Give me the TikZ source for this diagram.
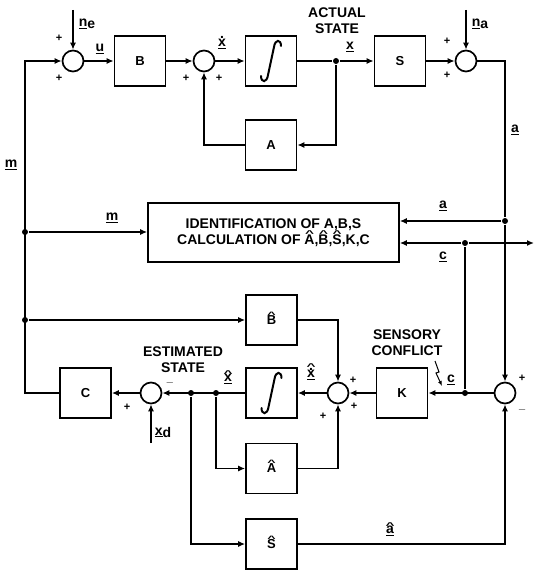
\documentclass[tikz,border=0pt]{standalone}
\usepackage{fontspec}
\setmainfont{Liberation Sans}
\usetikzlibrary{arrows.meta}
% hat and dot above a letter
\newcommand{\hatl}[2][0.55em]{\ooalign{#2\cr\hidewidth\raisebox{#1}{\scalebox{1.1}[0.6]{\textasciicircum}}\hidewidth\cr}}
\newcommand{\dotl}[2][0.58em]{\ooalign{#2\cr\hidewidth\raisebox{#1}{.}\hidewidth\cr}}
% integral sign drawn inside a block
\newcommand{\intsign}[1]{%
    \draw[line width=2pt,line cap=round] ([shift={(10,-15)}]#1.center)
        .. controls ([shift={(10,-22)}]#1.center) and ([shift={(4,-22)}]#1.center) .. ([shift={(3,-14)}]#1.center)
        -- ([shift={(-3,14)}]#1.center)
        .. controls ([shift={(-4,22)}]#1.center) and ([shift={(-10,22)}]#1.center) .. ([shift={(-10,15)}]#1.center);}
\begin{document}
\begin{tikzpicture}[x=1pt,y=-1pt,line width=1.7pt,>={Latex[length=7pt,width=6pt]},
    every node/.style={font=\bfseries\fontsize{14}{16}\selectfont},
    blk/.style={draw,minimum width=51pt,minimum height=50pt,inner sep=0pt,font=\bfseries\fontsize{13}{15}\selectfont},
    sum/.style={circle,draw,minimum size=21pt,inner sep=0pt},
    dot/.style={circle,fill,minimum size=6pt,inner sep=0pt},
    lbl/.style={inner sep=1pt,align=center},
    sgn/.style={inner sep=0pt,font=\bfseries\fontsize{11}{12}\selectfont}]
    \useasboundingbox (0,0) rectangle (535,572);
    % actual system
    \node[sum] (su) at (73,61) {};
    \node[blk] (B) at (140,61) {B};
    \node[sum] (sx) at (204,61) {};
    \node[blk] (I) at (271,61) {};
    \intsign{I}
    \node[dot] (dx) at (336,61) {};
    \node[blk] (S) at (400,61) {S};
    \node[sum] (sa) at (466,61) {};
    \node[blk] (A) at (271,145) {A};
    \coordinate (ne) at (73,10);
    \coordinate (na) at (466,10);
    % identification
    \node[draw,minimum width=251pt,minimum height=59pt,lbl] (ID) at (273.5,232.5)
        {IDENTIFICATION OF A,B,S\\CALCULATION OF \hatl{A},\hatl{B},\hatl{S},K,C};
    \node[dot] (da) at (505,221) {};
    \node[dot] (dc) at (465,243) {};
    \coordinate (co) at (534,243);
    \node[dot] (m1) at (25,232) {};
    \node[dot] (m2) at (25,320) {};
    \coordinate (mt) at (25,61);
    \coordinate (mb) at (25,393);
    % estimator
    \node[blk] (Bh) at (271.5,320) {\hatl{B}};
    \node[blk] (C) at (85.5,393) {C};
    \node[sum] (se) at (151,393) {};
    \node[dot] (h2) at (191,393) {};
    \node[dot] (h1) at (216,393) {};
    \node[blk] (Ih) at (271.5,393) {};
    \intsign{Ih}
    \node[sum] (sh) at (338,393) {};
    \node[blk] (K) at (402,393) {K};
    \node[dot] (dk) at (465,393) {};
    \node[sum] (sc) at (505,393) {};
    \node[blk] (Ah) at (271.5,468.5) {\hatl{A}};
    \node[blk] (Sh) at (271.5,544) {\hatl{S}};
    \coordinate (xd) at (151,443);
    % connectors
    \draw[->] (C.west) -- (mb) -- (mt) -- (su);
    \draw[->] (ne) -- (su);
    \draw[->] (su) -- (B);
    \draw[->] (B) -- (sx);
    \draw[->] (sx) -- (I);
    \draw (I) -- (dx);
    \draw[->] (dx) -- (S);
    \draw[->] (dx) |- (A);
    \draw[->] (A) -| (sx);
    \draw[->] (S) -- (sa);
    \draw[->] (na) -- (sa);
    \draw (sa) -| (da);
    \draw[->] (da) -- (da -| ID.east);
    \draw[->] (da) -- (sc);
    \draw[->] (dc) -- (dc -| ID.east);
    \draw[->] (dc) -- (co);
    \draw (dk) -- (dc);
    \draw[->] (m1) -- (m1 -| ID.west);
    \draw[->] (m2) -- (Bh);
    \draw[->] (sc) -- (K);
    \draw[->] (K) -- (sh);
    \draw[->] (Bh) -| (sh);
    \draw[->] (Ah) -| (sh);
    \draw[->] (sh) -- (Ih);
    \draw[->] (Ih) -- (se);
    \draw[->] (h1) |- (Ah);
    \draw[->] (h2) |- (Sh);
    \draw[->] (Sh) -| (sc);
    \draw[->] (xd) -- (se);
    \draw[->] (se) -- (C);
    \draw[->,line width=1pt,>={Latex[length=5pt,width=4pt]}] (435,361) -- ++(4,11) -- ++(-3,1) -- ++(6,13);
    % labels
    \node[sgn] (p1) at (59,38) {+};
    \node[sgn] (p2) at (59,78) {+};
    \node[lbl] (lne) at (87,24) {\underline{n}\raisebox{-2pt}{e}};
    \node[lbl] (lu) at (100,49) {\underline{u}};
    \node[sgn] (p3) at (186,78) {+};
    \node[sgn] (p4) at (219,78) {+};
    \node[lbl] (lxd) at (222,43) {\dotl{\underline{x}}};
    \node[lbl] (lact) at (337,21) {ACTUAL\\STATE};
    \node[lbl] (lx) at (350,47) {\underline{x}};
    \node[sgn] (p5) at (447,41) {+};
    \node[sgn] (p6) at (447,75) {+};
    \node[lbl] (lna) at (480,24) {\underline{n}\raisebox{-2pt}{a}};
    \node[lbl] (la1) at (515,130) {\underline{a}};
    \node[lbl] (lm1) at (11,165) {\underline{m}};
    \node[lbl] (lm2) at (112,218) {\underline{m}};
    \node[lbl] (la2) at (443,206) {\underline{a}};
    \node[lbl] (lc1) at (443,257) {\underline{c}};
    \node[lbl] (lest) at (183,360) {ESTIMATED\\STATE};
    \node[sgn] (m3) at (170,383) {$-$};
    \node[sgn] (p7) at (127,407) {+};
    \node[lbl] (lxdes) at (163,432) {\underline{x}\raisebox{-2pt}{d}};
    \node[lbl] (lxh) at (228,378) {\hatl[0.36em]{\underline{x}}};
    \node[lbl] (lxhd) at (311,374) {\hatl[0.62em]{\dotl[0.5em]{\underline{x}}}};
    \node[sgn] (p8) at (353,380) {+};
    \node[sgn] (p9) at (354,406) {+};
    \node[sgn] (p10) at (323,416) {+};
    \node[lbl] (lsc) at (407,343) {SENSORY\\CONFLICT};
    \node[lbl] (lc2) at (451,380) {\underline{c}};
    \node[sgn] (p11) at (522,378) {+};
    \node[sgn] (m4) at (522,410) {$-$};
    \node[lbl] (lah) at (390,530) {\hatl[0.36em]{\underline{a}}};
\end{tikzpicture}
\end{document}
